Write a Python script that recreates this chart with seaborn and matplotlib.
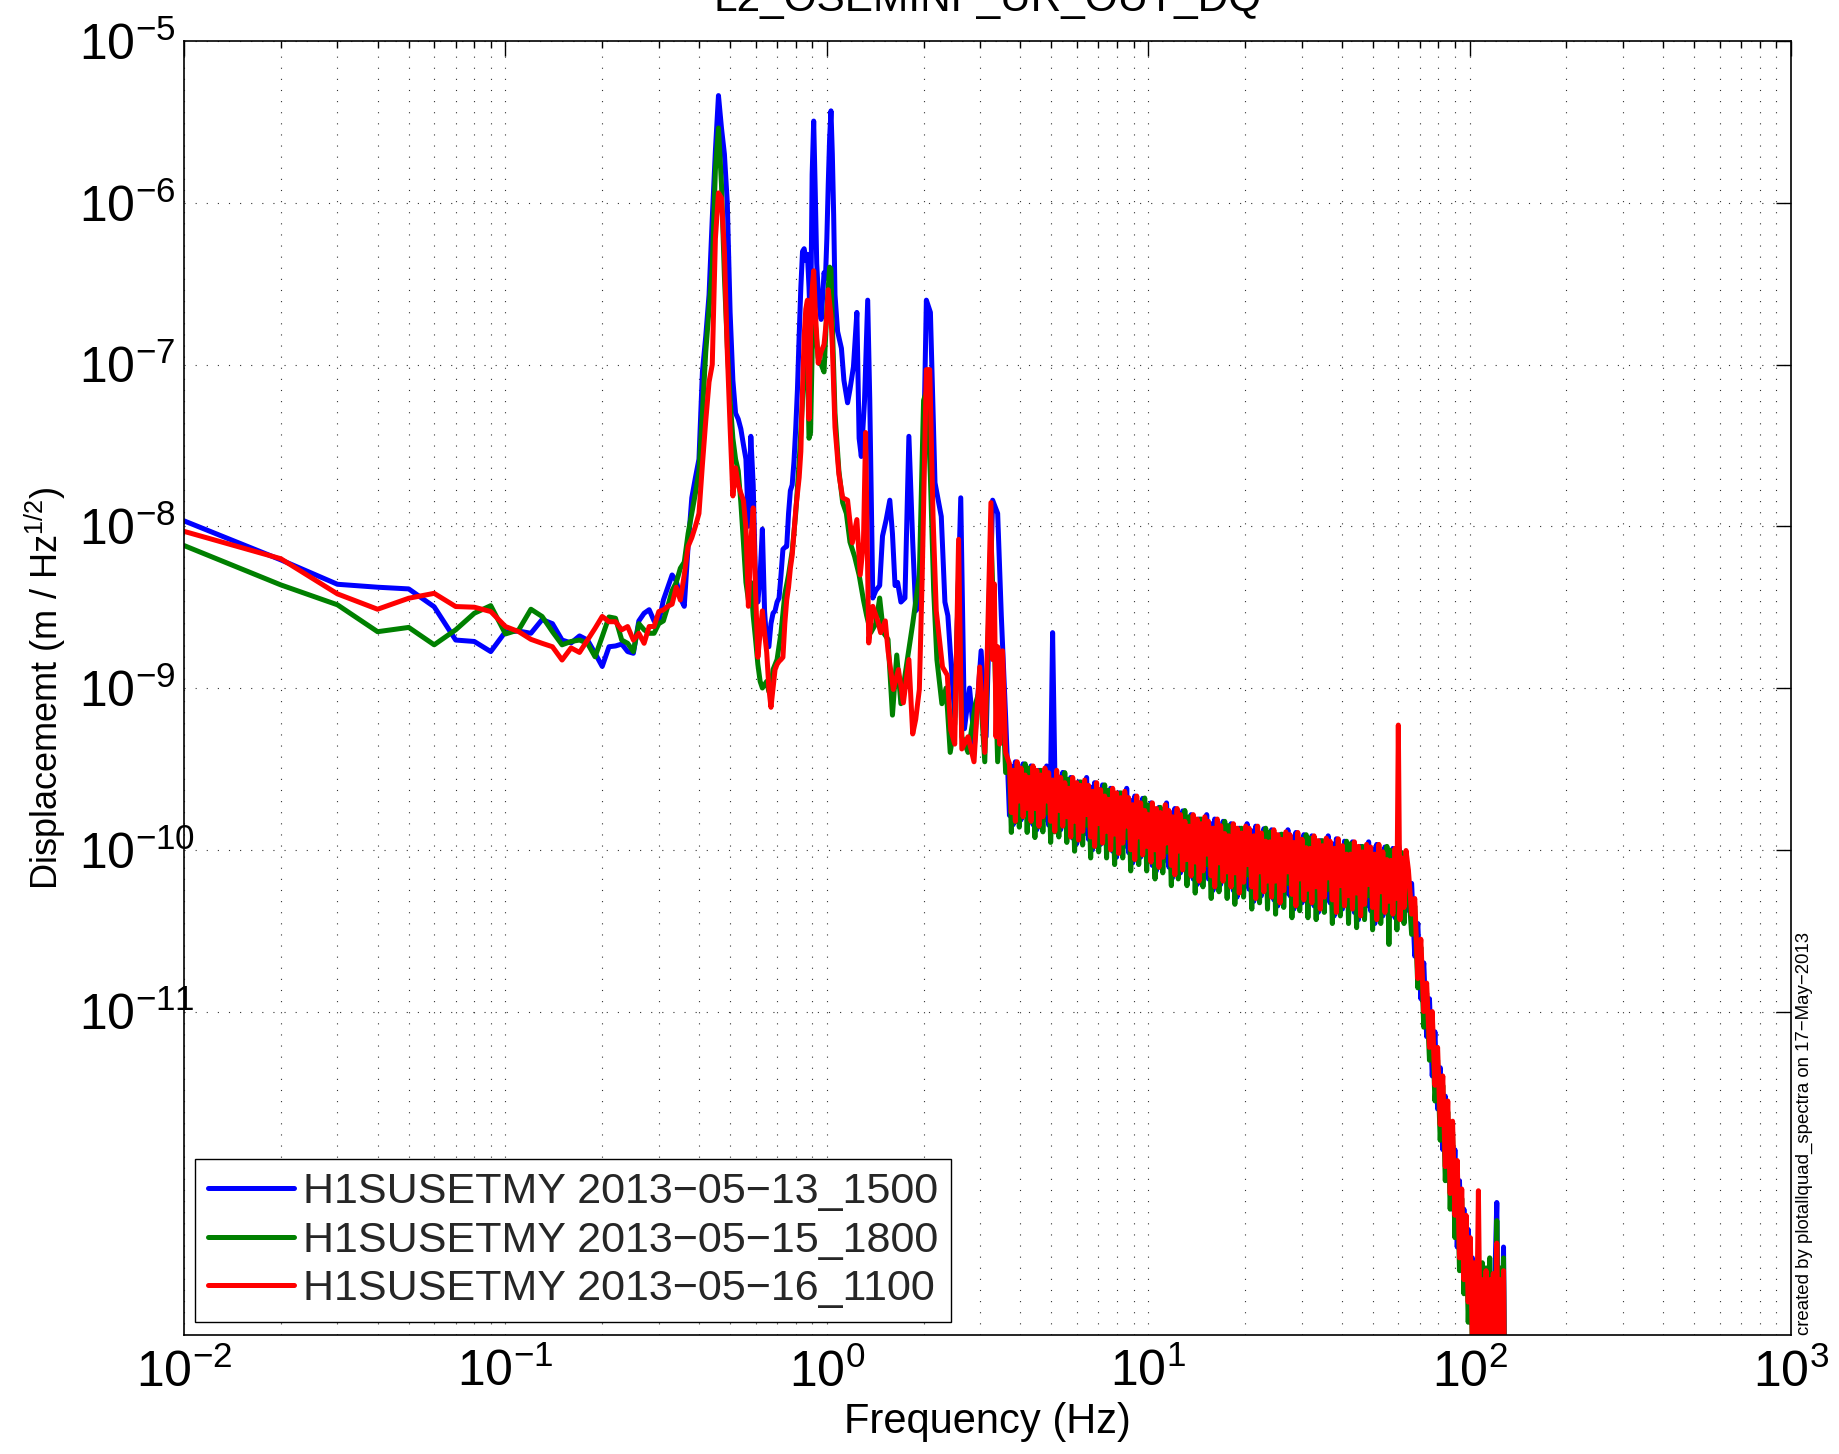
import numpy as np
import pandas as pd
import matplotlib
matplotlib.use('Agg')
import matplotlib.pyplot as plt
import seaborn as sns
from matplotlib import font_manager
from matplotlib.ticker import LogLocator, NullLocator, NullFormatter

# Runs (legend) and colours
runs = ['H1SUSETMY 2013\u221205\u221213_1500',
        'H1SUSETMY 2013\u221205\u221215_1800',
        'H1SUSETMY 2013\u221205\u221216_1100']
colors = ['#0000ff', '#008000', '#ff0000']

# Low frequency part, shared bins (Hz) and ASD (m/rtHz)
freq_low = [0.01, 0.02, 0.03, 0.04, 0.05, 0.06, 0.07, 0.08, 0.09, 0.10,
            0.11, 0.12, 0.13, 0.14, 0.15, 0.16, 0.17, 0.18, 0.19, 0.20,
            0.21, 0.22, 0.23, 0.24, 0.25, 0.26, 0.27, 0.28, 0.29, 0.30,
            0.31, 0.32, 0.33, 0.34]
blue_low = [1.08e-8, 6.2e-9, 4.38e-9, 4.2e-9, 4.1e-9, 3.18e-9, 1.98e-9, 1.94e-9, 1.68e-9, 2.23e-9,
            2.25e-9, 2.18e-9, 2.65e-9, 2.5e-9, 1.98e-9, 1.9e-9, 2.1e-9, 1.98e-9, 1.64e-9, 1.36e-9,
            1.8e-9, 1.82e-9, 1.87e-9, 1.68e-9, 1.64e-9, 2.6e-9, 2.9e-9, 3.05e-9, 2.6e-9, 2.55e-9,
            3.5e-9, 4.2e-9, 5.0e-9, 4.6e-9]
green_low = [7.6e-9, 4.34e-9, 3.27e-9, 2.23e-9, 2.37e-9, 1.85e-9, 2.29e-9, 2.9e-9, 3.23e-9, 2.16e-9,
             2.29e-9, 3.07e-9, 2.77e-9, 2.23e-9, 1.85e-9, 1.94e-9, 1.98e-9, 1.89e-9, 1.56e-9, 2.08e-9,
             2.75e-9, 2.7e-9, 1.98e-9, 1.89e-9, 1.68e-9, 2.5e-9, 2.29e-9, 2.18e-9, 2.18e-9, 2.5e-9,
             2.6e-9, 3.2e-9, 4.0e-9, 4.5e-9]
red_low = [9.3e-9, 6.3e-9, 3.82e-9, 3.07e-9, 3.59e-9, 3.85e-9, 3.19e-9, 3.16e-9, 2.97e-9, 2.4e-9,
           2.23e-9, 2.0e-9, 1.89e-9, 1.8e-9, 1.49e-9, 1.77e-9, 1.66e-9, 1.98e-9, 2.34e-9, 2.77e-9,
           2.57e-9, 2.57e-9, 2.29e-9, 2.4e-9, 1.98e-9, 2.18e-9, 1.89e-9, 2.4e-9, 2.4e-9, 2.97e-9,
           3.04e-9, 3.2e-9, 3.3e-9, 4.2e-9]

# Resonance region, (freq Hz, ASD) per run
blue_peak = [
    (0.35, 3.6e-9), (0.36, 3.2e-9), (0.37, 7.5e-9), (0.38, 1.5e-8), (0.39, 2.0e-8),
    (0.40, 2.6e-8), (0.41, 9.0e-8), (0.42, 1.5e-7), (0.43, 2.7e-7), (0.44, 8.0e-7),
    (0.45, 2.1e-6), (0.46, 4.6e-6), (0.47, 2.9e-6), (0.48, 2.0e-6), (0.49, 1.0e-6),
    (0.50, 2.1e-7), (0.51, 8.0e-8), (0.52, 5.0e-8), (0.53, 4.6e-8), (0.54, 4.0e-8),
    (0.55, 3.2e-8), (0.56, 2.6e-8), (0.57, 1.0e-8), (0.58, 3.6e-8), (0.59, 1.8e-8),
    (0.60, 4.5e-9), (0.61, 3.4e-9), (0.62, 5.0e-9), (0.63, 9.6e-9), (0.64, 3.0e-9),
    (0.65, 1.9e-9), (0.66, 1.8e-9), (0.67, 2.5e-9), (0.68, 2.9e-9), (0.69, 3.0e-9),
    (0.70, 3.4e-9), (0.71, 3.6e-9), (0.72, 5.0e-9), (0.73, 7.2e-9), (0.74, 7.4e-9),
    (0.75, 7.5e-9), (0.76, 1.2e-8), (0.77, 1.66e-8), (0.78, 1.8e-8), (0.79, 2.5e-8),
    (0.80, 4.0e-8), (0.81, 7.0e-8), (0.82, 1.5e-7), (0.83, 3.0e-7), (0.84, 5.0e-7),
    (0.85, 5.2e-7), (0.86, 4.4e-7), (0.87, 4.8e-7), (0.88, 3.0e-7), (0.89, 1.6e-7),
    (0.90, 1.5e-6), (0.91, 3.2e-6), (0.92, 1.2e-6), (0.93, 4.2e-7), (0.94, 2.8e-7),
    (0.95, 2.2e-7), (0.96, 1.9e-7), (0.97, 2.6e-7), (0.98, 3.7e-7), (0.99, 3.4e-7),
    (1.00, 6.0e-7), (1.01, 1.3e-6), (1.02, 2.5e-6), (1.03, 3.7e-6), (1.04, 2.0e-6),
    (1.05, 8.4e-7), (1.06, 2.7e-7), (1.08, 1.6e-7), (1.11, 1.26e-7), (1.13, 8.0e-8),
    (1.16, 5.8e-8), (1.18, 7.0e-8), (1.21, 9.7e-8), (1.24, 2.1e-7), (1.26, 3.5e-8),
    (1.28, 2.7e-8), (1.31, 6.0e-8), (1.34, 2.5e-7), (1.36, 6.0e-8), (1.39, 3.6e-9),
    (1.42, 4.0e-9), (1.46, 4.3e-9), (1.49, 8.7e-9), (1.53, 1.1e-8), (1.57, 1.45e-8),
    (1.60, 9.0e-9), (1.63, 4.3e-9), (1.66, 4.5e-9), (1.70, 3.4e-9), (1.75, 3.6e-9),
    (1.80, 3.6e-8), (1.85, 8.0e-9), (1.89, 3.0e-9), (1.94, 3.2e-9), (1.98, 9.6e-9),
    (2.04, 2.5e-7), (2.10, 2.1e-7), (2.17, 1.86e-8), (2.27, 1.15e-8), (2.33, 3.4e-9),
    (2.38, 2.8e-9), (2.50, 6.6e-10), (2.61, 1.5e-8), (2.68, 5.6e-10), (2.78, 1.0e-9),
    (2.88, 4.5e-10), (3.02, 1.7e-9), (3.13, 5.0e-10), (3.28, 1.45e-8), (3.40, 1.2e-8),
    (3.49, 2.8e-9), (3.60, 6.6e-10),
]
green_peak = [
    (0.35, 5.5e-9), (0.36, 6.0e-9), (0.37, 9.0e-9), (0.38, 1.2e-8), (0.39, 1.6e-8),
    (0.40, 2.2e-8), (0.41, 5.0e-8), (0.42, 1.2e-7), (0.43, 2.2e-7), (0.44, 4.0e-7),
    (0.45, 1.6e-6), (0.46, 2.9e-6), (0.47, 1.3e-6), (0.48, 3.5e-7), (0.49, 1.3e-7),
    (0.50, 6.0e-8), (0.51, 3.5e-8), (0.52, 2.6e-8), (0.53, 2.2e-8), (0.54, 1.4e-8),
    (0.55, 8.0e-9), (0.56, 4.5e-9), (0.57, 3.5e-9), (0.58, 4.5e-9), (0.59, 2.8e-9),
    (0.60, 2.0e-9), (0.61, 1.4e-9), (0.62, 1.1e-9), (0.63, 1.0e-9), (0.64, 1.05e-9),
    (0.65, 1.1e-9), (0.66, 9.5e-10), (0.67, 1.0e-9), (0.68, 1.3e-9), (0.70, 1.5e-9),
    (0.72, 2.2e-9), (0.74, 3.8e-9), (0.76, 5.0e-9), (0.78, 7.0e-9), (0.80, 1.2e-8),
    (0.82, 2.5e-8), (0.84, 6.0e-8), (0.86, 1.6e-7), (0.87, 1.1e-7), (0.88, 3.5e-8),
    (0.89, 3.8e-8), (0.90, 1.2e-7), (0.91, 3.3e-7), (0.92, 1.8e-7), (0.94, 1.1e-7),
    (0.96, 1.0e-7), (0.98, 9.0e-8), (1.00, 2.2e-7), (1.02, 4.0e-7), (1.03, 3.9e-7),
    (1.04, 1.8e-7), (1.06, 5.0e-8), (1.09, 2.2e-8), (1.12, 1.4e-8), (1.15, 1.2e-8),
    (1.18, 8.0e-9), (1.22, 6.5e-9), (1.26, 5.0e-9), (1.30, 3.5e-9), (1.33, 2.8e-9),
    (1.37, 2.2e-9), (1.42, 2.5e-9), (1.46, 3.6e-9), (1.50, 2.2e-9), (1.55, 2.0e-9),
    (1.60, 6.8e-10), (1.65, 1.6e-9), (1.70, 8.0e-10), (1.78, 1.5e-9), (1.85, 2.5e-9),
    (1.94, 5.0e-9), (2.00, 6.0e-8), (2.05, 7.0e-8), (2.10, 2.0e-8), (2.15, 4.0e-9),
    (2.20, 1.5e-9), (2.28, 8.0e-10), (2.35, 1.0e-9), (2.42, 4.0e-10), (2.50, 6.0e-10),
    (2.57, 5.0e-9), (2.63, 5.0e-10), (2.75, 4.0e-10), (2.90, 8.0e-10), (3.00, 1.0e-9),
    (3.10, 3.5e-10), (3.24, 9.0e-9), (3.30, 3.0e-9), (3.40, 3.5e-10), (3.50, 1.2e-9),
    (3.60, 3.0e-10),
]
red_peak = [
    (0.35, 3.5e-9), (0.36, 5.0e-9), (0.37, 7.5e-9), (0.38, 8.5e-9), (0.39, 1.0e-8),
    (0.40, 1.2e-8), (0.41, 2.4e-8), (0.42, 4.5e-8), (0.43, 7.8e-8), (0.44, 1.0e-7),
    (0.45, 6.0e-7), (0.46, 1.15e-6), (0.47, 1.07e-6), (0.48, 5.0e-7), (0.49, 1.2e-7),
    (0.50, 4.1e-8), (0.51, 1.54e-8), (0.52, 2.3e-8), (0.53, 1.8e-8), (0.54, 1.6e-8),
    (0.55, 1.45e-8), (0.56, 9.8e-9), (0.57, 3.2e-9), (0.58, 8.0e-9), (0.59, 1.3e-8),
    (0.60, 4.0e-9), (0.61, 1.55e-9), (0.62, 2.2e-9), (0.63, 3.0e-9), (0.64, 2.2e-9),
    (0.65, 1.66e-9), (0.66, 1.0e-9), (0.67, 7.6e-10), (0.68, 1.0e-9), (0.69, 1.3e-9),
    (0.70, 1.4e-9), (0.71, 1.46e-9), (0.72, 1.5e-9), (0.73, 1.55e-9), (0.74, 2.5e-9),
    (0.75, 3.5e-9), (0.76, 4.2e-9), (0.77, 5.5e-9), (0.78, 6.6e-9), (0.79, 9.0e-9),
    (0.80, 1.26e-8), (0.82, 2.0e-8), (0.83, 2.9e-8), (0.84, 7.0e-8), (0.85, 1.5e-7),
    (0.86, 2.2e-7), (0.87, 2.5e-7), (0.88, 4.6e-8), (0.89, 1.5e-7), (0.90, 2.9e-7),
    (0.91, 3.8e-7), (0.92, 2.2e-7), (0.93, 1.5e-7), (0.94, 1.02e-7), (0.96, 1.2e-7),
    (0.98, 1.33e-7), (1.00, 2.0e-7), (1.01, 2.9e-7), (1.03, 2.0e-7), (1.04, 1.3e-7),
    (1.06, 4.1e-8), (1.09, 2.1e-8), (1.12, 1.5e-8), (1.16, 1.45e-8), (1.20, 7.9e-9),
    (1.24, 1.1e-8), (1.27, 5.0e-9), (1.30, 8.0e-9), (1.32, 3.8e-8), (1.35, 1.9e-9),
    (1.39, 3.2e-9), (1.44, 2.6e-9), (1.47, 2.2e-9), (1.52, 2.6e-9), (1.55, 1.7e-9),
    (1.61, 9.8e-10), (1.67, 1.3e-9), (1.73, 8.1e-10), (1.80, 1.5e-9), (1.85, 5.2e-10),
    (1.89, 6.4e-10), (1.94, 9.8e-10), (1.98, 4.9e-9), (2.04, 9.3e-8), (2.09, 9.3e-8),
    (2.14, 1.15e-8), (2.19, 3.0e-9), (2.29, 1.35e-9), (2.37, 1.2e-9), (2.43, 5.5e-10),
    (2.50, 4.5e-10), (2.57, 8.3e-9), (2.63, 4.2e-10), (2.75, 5.0e-10), (2.87, 3.5e-10),
    (2.99, 1.35e-9), (3.10, 4.0e-10), (3.24, 1.4e-8), (3.28, 1.5e-9), (3.32, 4.4e-9),
    (3.36, 5.0e-10), (3.40, 1.8e-9), (3.45, 4.5e-10), (3.52, 1.7e-9), (3.60, 4.0e-10),
]

# Broadband noise floor, shared bins (Hz); values in units of 1e-10 m/rtHz
band_freq = [3.70, 3.75, 3.80, 3.86, 3.91, 3.97, 4.02, 4.08, 4.14, 4.20,
             4.26, 4.32, 4.38, 4.44, 4.50, 4.57, 4.63, 4.70, 4.77, 4.83,
             4.90, 4.97, 5.04, 5.12, 5.19, 5.27, 5.34, 5.42, 5.50, 5.58,
             5.66, 5.74, 5.82, 5.90, 5.99, 6.07, 6.16, 6.25, 6.34, 6.43,
             6.52, 6.62, 6.71, 6.81, 6.91, 7.01, 7.11, 7.21, 7.32, 7.42,
             7.53, 7.64, 7.75, 7.86, 7.97, 8.09, 8.21, 8.33, 8.45, 8.57,
             8.69, 8.82, 8.95, 9.08, 9.21, 9.34, 9.47, 9.61, 9.75, 9.89,
             10.0, 10.2, 10.3, 10.5, 10.6, 10.8, 10.9, 11.1, 11.3, 11.4,
             11.6, 11.8, 11.9, 12.1, 12.3, 12.4, 12.6, 12.8, 13.0, 13.2,
             13.4, 13.6, 13.8, 14.0, 14.2, 14.4, 14.6, 14.8, 15.0, 15.2,
             15.4, 15.7, 15.9, 16.1, 16.4, 16.6, 16.8, 17.1, 17.3, 17.6,
             17.8, 18.1, 18.4, 18.6, 18.9, 19.2, 19.5, 19.8, 20.1, 20.3,
             20.6, 21.0, 21.3, 21.6, 21.9, 22.2, 22.5, 22.9, 23.2, 23.5,
             23.9, 24.2, 24.6, 24.9, 25.3, 25.7, 26.0, 26.4, 26.8, 27.2,
             27.6, 28.0, 28.4, 28.8, 29.2, 29.6, 30.1, 30.5, 31.0, 31.4,
             31.9, 32.3, 32.8, 33.3, 33.8, 34.3, 34.8, 35.3, 35.8, 36.3,
             36.8, 37.4, 37.9, 38.5, 39.0, 39.6, 40.2, 40.8, 41.4, 42.0,
             42.6, 43.2, 43.8, 44.5, 45.1, 45.8, 46.4, 47.1, 47.8, 48.5,
             49.2, 49.9, 50.7, 51.4, 52.2, 52.9, 53.7, 54.5, 55.3, 56.1,
             56.9, 57.7, 58.6, 59.4, 60.0, 60.7, 61.6, 62.5, 63.4]
blue_band = [1.63, 3.29, 1.43, 3.5, 1.84, 3.19, 1.53, 3.4, 1.74, 3.09,
             1.92, 3.3, 1.43, 2.91, 1.33, 3.1, 1.72, 2.81, 1.53, 3.3,
             1.42, 2.91, 22.0, 3.1, 1.61, 2.82, 1.33, 3.01, 1.51, 2.73,
             1.6, 2.8, 1.18, 2.46, 1.09, 2.63, 1.43, 2.37, 1.26, 2.8,
             1.16, 2.44, 1.0, 2.6, 1.32, 2.36, 1.08, 2.52, 1.24, 2.28,
             1.35, 2.4, 0.98, 2.1, 0.9, 2.25, 1.2, 2.03, 1.05, 2.4,
             0.96, 2.02, 0.83, 2.15, 1.09, 1.95, 0.9, 2.08, 1.03, 1.89,
             1.1, 1.95, 0.8, 1.71, 0.74, 1.83, 0.98, 1.65, 0.86, 1.95,
             0.78, 1.69, 0.67, 1.8, 0.89, 1.63, 0.72, 1.74, 0.84, 1.57,
             0.92, 1.65, 0.66, 1.44, 0.61, 1.55, 0.82, 1.39, 0.71, 1.65,
             0.66, 1.45, 0.56, 1.55, 0.76, 1.4, 0.61, 1.5, 0.71, 1.35,
             0.79, 1.45, 0.56, 1.26, 0.51, 1.36, 0.7, 1.22, 0.6, 1.45,
             0.57, 1.31, 0.48, 1.4, 0.66, 1.26, 0.52, 1.35, 0.61, 1.22,
             0.71, 1.33, 0.49, 1.15, 0.45, 1.24, 0.63, 1.11, 0.54, 1.33,
             0.52, 1.2, 0.43, 1.28, 0.6, 1.15, 0.47, 1.24, 0.56, 1.11,
             0.65, 1.22, 0.45, 1.06, 0.41, 1.14, 0.57, 1.02, 0.49, 1.22,
             0.47, 1.09, 0.39, 1.17, 0.55, 1.05, 0.43, 1.13, 0.51, 1.01,
             0.6, 1.12, 0.41, 0.97, 0.37, 1.05, 0.52, 0.93, 0.45, 1.12,
             0.42, 1.01, 0.35, 1.08, 0.5, 0.97, 0.39, 1.04, 0.46, 0.93,
             0.55, 1.02, 0.38, 0.89, 1.1, 0.95, 0.48, 0.85, 0.42]
green_band = [3.19, 1.28, 2.87, 1.49, 3.29, 1.38, 2.76, 1.7, 3.4, 1.28,
              3.2, 1.49, 2.9, 1.19, 2.8, 1.39, 3.1, 1.29, 2.6, 1.69,
              2.81, 1.11, 2.53, 1.29, 2.9, 1.2, 2.43, 1.48, 3.0, 1.11,
              2.72, 1.24, 2.46, 0.98, 2.37, 1.15, 2.63, 1.07, 2.2, 1.42,
              2.36, 0.89, 2.11, 1.05, 2.44, 0.97, 2.03, 1.22, 2.52, 0.89,
              2.33, 1.04, 2.1, 0.81, 2.03, 0.96, 2.25, 0.89, 1.87, 1.19,
              1.96, 0.74, 1.75, 0.88, 2.02, 0.81, 1.69, 1.01, 2.09, 0.74,
              1.89, 0.84, 1.71, 0.66, 1.64, 0.78, 1.83, 0.72, 1.52, 0.97,
              1.64, 0.6, 1.46, 0.72, 1.69, 0.66, 1.41, 0.83, 1.75, 0.6,
              1.6, 0.7, 1.44, 0.54, 1.39, 0.65, 1.55, 0.59, 1.28, 0.81,
              1.4, 0.5, 1.25, 0.6, 1.45, 0.55, 1.2, 0.7, 1.5, 0.5,
              1.41, 0.6, 1.27, 0.46, 1.22, 0.56, 1.36, 0.51, 1.13, 0.7,
              1.27, 0.43, 1.13, 0.52, 1.31, 0.47, 1.08, 0.61, 1.36, 0.43,
              1.29, 0.53, 1.16, 0.4, 1.11, 0.49, 1.25, 0.44, 1.02, 0.62,
              1.15, 0.38, 1.03, 0.47, 1.2, 0.42, 0.98, 0.55, 1.24, 0.38,
              1.18, 0.49, 1.06, 0.37, 1.02, 0.45, 1.14, 0.41, 0.94, 0.57,
              1.05, 0.35, 0.94, 0.43, 1.09, 0.39, 0.9, 0.51, 1.13, 0.35,
              1.09, 0.44, 0.98, 0.33, 0.94, 0.41, 1.05, 0.37, 0.86, 0.52,
              0.98, 0.32, 0.87, 0.39, 1.01, 0.35, 0.83, 0.46, 1.05, 0.26,
              0.99, 0.42, 0.89, 0.32, 1.1, 0.38, 0.96, 0.35, 0.79]
red_band = [3.4, 1.7, 3.1, 1.5, 3.5, 2.0, 3.2, 1.6, 2.9, 1.8,
            2.8, 1.5, 3.3, 1.8, 3.1, 1.4, 2.9, 1.6, 3.2, 2.0,
            3.0, 1.5, 2.7, 1.3, 3.1, 1.75, 2.8, 1.4, 2.6, 1.6,
            2.4, 1.2, 2.8, 1.5, 2.6, 1.15, 2.5, 1.3, 2.7, 1.65,
            2.5, 1.2, 2.3, 1.05, 2.6, 1.45, 2.35, 1.1, 2.15, 1.3,
            2.05, 1.0, 2.4, 1.25, 2.25, 0.95, 2.1, 1.1, 2.3, 1.4,
            2.1, 1.0, 1.9, 0.87, 2.15, 1.2, 1.95, 0.93, 1.75, 1.05,
            1.65, 0.84, 1.95, 1.0, 1.8, 0.78, 1.7, 0.9, 1.9, 1.1,
            1.75, 0.8, 1.6, 0.7, 1.8, 0.98, 1.65, 0.75, 1.5, 0.87,
            1.4, 0.69, 1.65, 0.84, 1.55, 0.64, 1.45, 0.74, 1.6, 0.94,
            1.5, 0.69, 1.36, 0.59, 1.55, 0.83, 1.41, 0.64, 1.26, 0.73,
            1.22, 0.59, 1.45, 0.72, 1.36, 0.54, 1.27, 0.63, 1.4, 0.81,
            1.36, 0.59, 1.22, 0.5, 1.4, 0.73, 1.27, 0.55, 1.13, 0.64,
            1.12, 0.51, 1.33, 0.64, 1.24, 0.47, 1.16, 0.56, 1.29, 0.73,
            1.24, 0.53, 1.11, 0.45, 1.28, 0.66, 1.16, 0.49, 1.03, 0.57,
            1.02, 0.47, 1.22, 0.59, 1.14, 0.43, 1.06, 0.51, 1.18, 0.67,
            1.13, 0.49, 1.02, 0.41, 1.17, 0.6, 1.06, 0.45, 0.94, 0.52,
            0.94, 0.43, 1.12, 0.54, 1.05, 0.39, 0.97, 0.46, 1.08, 0.61,
            1.04, 0.44, 0.94, 0.37, 1.08, 0.55, 0.97, 0.41, 0.87, 0.48,
            0.86, 0.4, 1.02, 0.5, 5.9, 0.37, 0.89, 0.44, 0.99]

# Anti-alias roll-off, shared bins (Hz); values in units of 1e-10 m/rtHz
roll_freq = [64.5, 66, 67.5, 69, 70.5, 72, 73.5, 75, 76.5, 78,
             79.5, 81, 82.5, 84, 85.5, 87, 88.5, 90, 91.5, 93,
             94.5, 96, 97.5, 99, 100.5, 102, 103.5, 105, 106.5, 108,
             109.5, 111, 112.5, 114, 115.5, 117, 118.5, 120, 121.5, 123,
             124.5, 126, 127.5, 128.5]
blue_roll = [0.5, 0.62, 0.22, 0.35, 0.12, 0.2, 0.07, 0.12, 0.04, 0.075,
             0.025, 0.045, 0.014, 0.03, 0.009, 0.02, 0.006, 0.014, 0.0035, 0.009,
             0.0025, 0.006, 0.0018, 0.0045, 0.0012, 0.003, 0.0009, 0.0025, 0.0008, 0.0022,
             0.0006, 0.002, 0.0007, 0.0024, 0.0006, 0.002, 0.0007, 0.0025, 0.0066, 0.0006,
             0.0024, 0.0005, 0.0035, 0.0005]
green_roll = [0.6, 0.3, 0.45, 0.14, 0.25, 0.08, 0.13, 0.05, 0.085, 0.028,
              0.05, 0.016, 0.035, 0.009, 0.024, 0.006, 0.018, 0.004, 0.011, 0.0025,
              0.007, 0.0018, 0.005, 0.0012, 0.0035, 0.0008, 0.0026, 0.0007, 0.0024, 0.0006,
              0.0028, 0.0005, 0.0026, 0.0007, 0.003, 0.0006, 0.0023, 0.0007, 0.0051, 0.0005,
              0.0026, 0.0006, 0.003, 0.0004]
red_roll = [0.75, 0.4, 0.5, 0.16, 0.28, 0.1, 0.15, 0.06, 0.1, 0.035,
            0.06, 0.02, 0.04, 0.011, 0.028, 0.0075, 0.021, 0.0055, 0.012, 0.003,
            0.008, 0.0022, 0.0055, 0.0016, 0.004, 0.0009, 0.0028, 0.0008, 0.0078, 0.0006,
            0.0022, 0.0005, 0.0025, 0.0006, 0.0022, 0.0007, 0.0024, 0.0006, 0.0037, 0.0005,
            0.0022, 0.0006, 0.0025, 0.0004]

# Build long-form table
frames = []
for name, low, peak, band, roll in zip(runs,
                                       [blue_low, green_low, red_low],
                                       [blue_peak, green_peak, red_peak],
                                       [blue_band, green_band, red_band],
                                       [blue_roll, green_roll, red_roll]):
    f = freq_low + [p[0] for p in peak] + band_freq + roll_freq
    v = low + [p[1] for p in peak] + [b * 1e-10 for b in band] + [r * 1e-10 for r in roll]
    frames.append(pd.DataFrame({'freq': f, 'asd': v, 'run': name}))
df = pd.concat(frames, ignore_index=True)

# Style
sns.set_style('white')
plt.rcParams['font.family'] = ['Liberation Sans', 'DejaVu Sans']
plt.rcParams['mathtext.fontset'] = 'custom'
plt.rcParams['mathtext.rm'] = 'Liberation Sans'
plt.rcParams['mathtext.it'] = 'Liberation Sans:italic'
plt.rcParams['mathtext.bf'] = 'Liberation Sans:bold'

font_names = {f.name for f in font_manager.fontManager.ttflist}
has_narrow = 'Liberation Sans Narrow' in font_names

fig = plt.figure(figsize=(18.39, 14.54), dpi=100)
ax = fig.add_axes([0.1001, 0.0818, 0.8738, 0.8900])
ax.set_xscale('log')
ax.set_yscale('log')

sns.lineplot(data=df, x='freq', y='asd', hue='run', hue_order=runs,
             palette=colors, estimator=None, sort=False,
             legend=False, ax=ax)
for line in ax.lines:
    line.set_linewidth(3.6)
    line.set_solid_joinstyle('round')

ax.set_xlim(1e-2, 1e3)
ax.set_ylim(1e-13, 1e-5)

ax.xaxis.set_major_locator(LogLocator(base=10, numticks=20))
ax.xaxis.set_minor_locator(LogLocator(base=10, subs=np.arange(2, 10), numticks=20))
ax.xaxis.set_minor_formatter(NullFormatter())
ax.set_yticks([1e-11, 1e-10, 1e-9, 1e-8, 1e-7, 1e-6, 1e-5])
ax.yaxis.set_minor_locator(NullLocator())

ax.tick_params(which='both', direction='in', top=True, right=True,
               width=1.0, color='black', labelcolor='black')
ax.tick_params(axis='both', labelsize=36)
ax.tick_params(which='major', length=11)
ax.tick_params(which='minor', length=5)
ax.tick_params(axis='y', pad=76)
ax.tick_params(axis='x', pad=10)
for lab in ax.get_yticklabels():
    lab.set_horizontalalignment('left')

grid_kw = dict(color='#333333', linestyle=(0, (1, 9)), linewidth=0.8)
ax.grid(True, which='major', axis='both', **grid_kw)
ax.grid(True, which='minor', axis='x', **grid_kw)
ax.set_axisbelow(True)

for s in ax.spines.values():
    s.set_color('black')
    s.set_linewidth(1.2)
    s.set_visible(True)

ax.set_xlabel('Frequency (Hz)', fontsize=30, color='black')
ax.xaxis.set_label_coords(0.5, -0.052)
if has_narrow:
    ax.set_ylabel('Displacememt (m / Hz$^{1/2}$)', fontsize=30, color='black',
                  family=['Liberation Sans Narrow', 'Liberation Sans', 'DejaVu Sans'])
else:
    ax.set_ylabel('Displacememt (m / Hz$^{1/2}$)', fontsize=26, color='black')
ax.yaxis.set_label_coords(-0.072, 0.5)

leg = ax.legend(handles=ax.lines[:3], labels=runs, loc='lower left',
                bbox_to_anchor=(0.0068, 0.010), borderaxespad=0,
                fontsize=31, frameon=True, fancybox=False, framealpha=1,
                edgecolor='black', handlelength=2.0, handletextpad=0.2,
                labelspacing=0.2, borderpad=0.3)
leg.get_frame().set_linewidth(1.0)

# Title (cut off at the top edge as in the original export)
fig.text(0.537, 1 - 11 / 1454, 'L2_OSEMINF_UR_OUT_DQ', ha='center',
         va='baseline', fontsize=30.5, color='black')

fig.text(0.981, 0.0818, 'created by plotallquad_spectra on 17\u2212May\u22122013',
         rotation=90, ha='center', va='bottom', fontsize=13.4, color='black')

fig.savefig('out.png', dpi=100)
